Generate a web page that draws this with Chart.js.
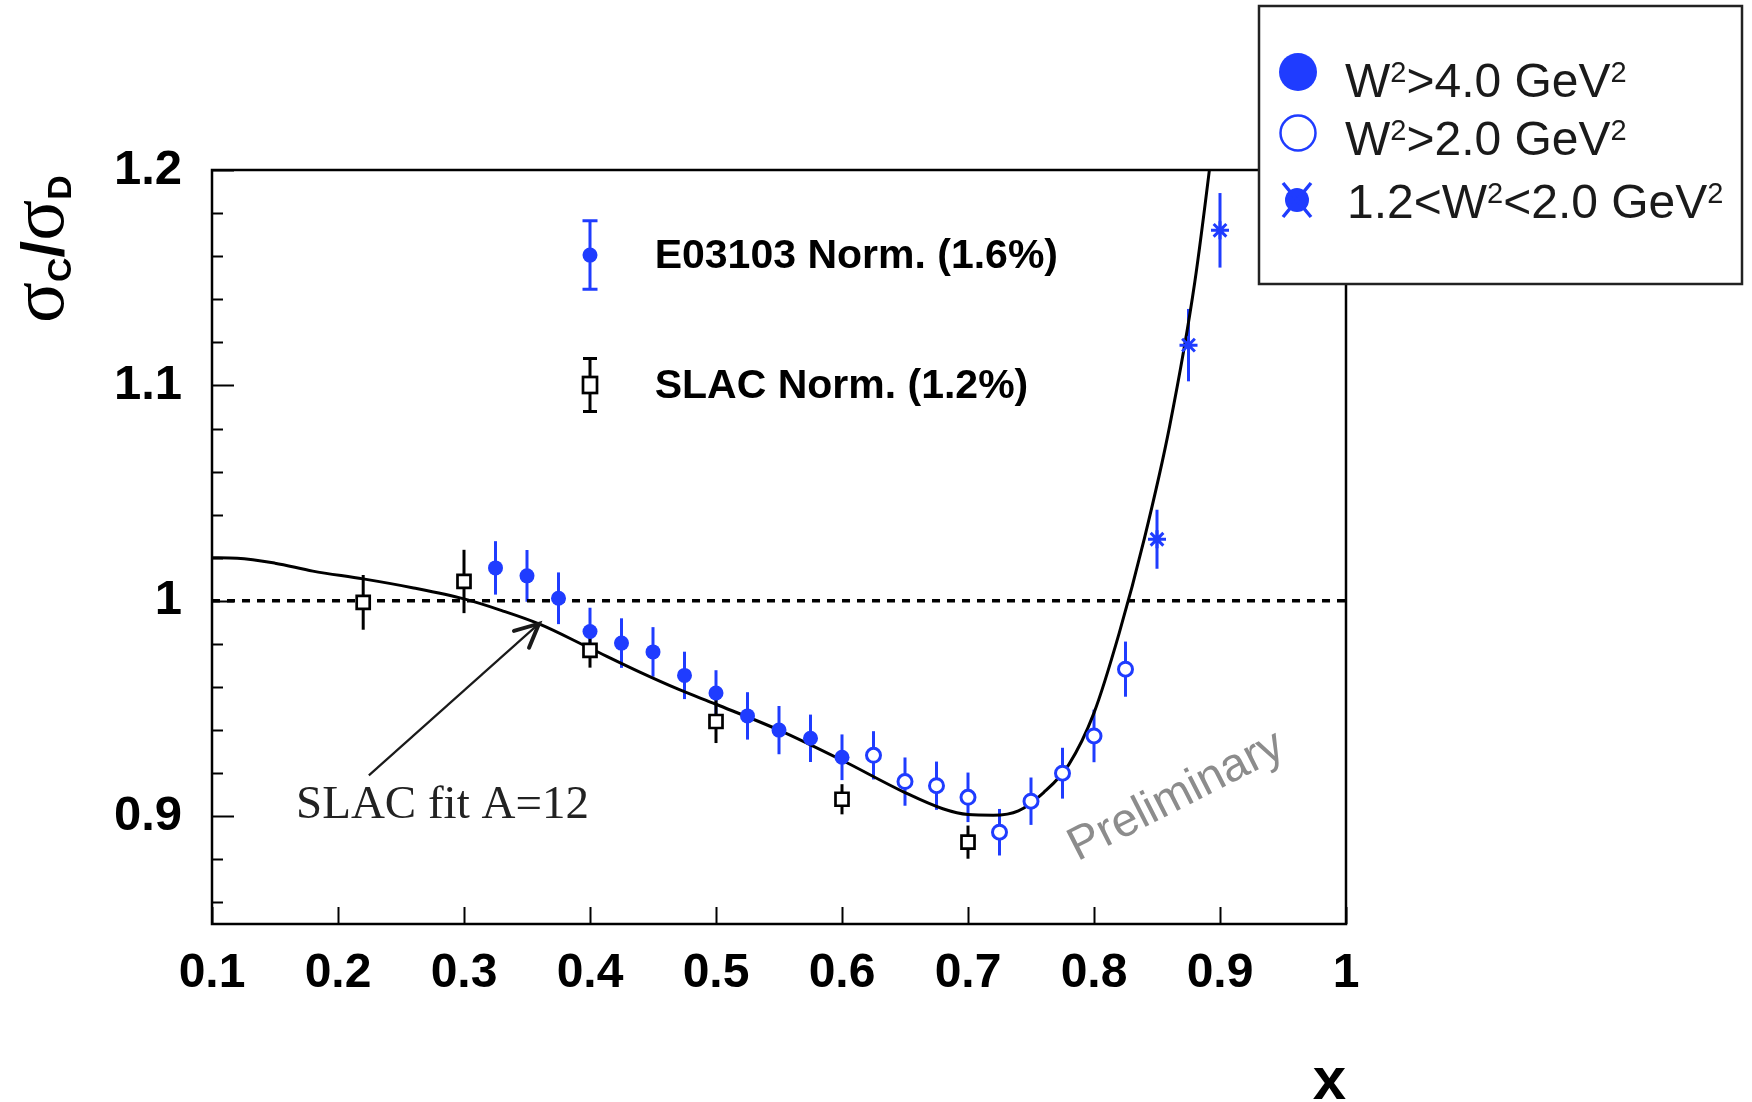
<!DOCTYPE html>
<html>
<head>
<meta charset="utf-8">
<script src="https://cdn.jsdelivr.net/npm/chart.js@4.4.1/dist/chart.umd.min.js"></script>
<style>
html,body{margin:0;padding:0;background:#fff;}
canvas{display:block;}
</style>
</head>
<body>
<canvas id="c" width="1752" height="1102"></canvas>
<script>
// ---------------- data ----------------
const xTicks = [0.1,0.2,0.3,0.4,0.5,0.6,0.7,0.8,0.9,1.0];
const xTickLabels = ['0.1','0.2','0.3','0.4','0.5','0.6','0.7','0.8','0.9','1'];
const yTicks = [0.9,1.0,1.1,1.2];
const yTickLabels = ['0.9','1','1.1','1.2'];
const yMinorTicks = [0.86,0.88,0.92,0.94,0.96,0.98,1.02,1.04,1.06,1.08,1.12,1.14,1.16,1.18];

// E03103, W^2 > 4.0 GeV^2 (filled)
const filledX = [0.325,0.35,0.375,0.4,0.425,0.45,0.475,0.5,0.525,0.55,0.575,0.6];
const filledY = [1.0153,1.0116,1.0012,0.9858,0.9804,0.9763,0.9654,0.9572,0.9466,0.9400,0.9362,0.9274];
const filledErr = [0.0124,0.012,0.012,0.011,0.0115,0.0115,0.011,0.0106,0.011,0.0112,0.011,0.0106];

// E03103, W^2 > 2.0 GeV^2 (open)
const openX = [0.625,0.65,0.675,0.7,0.725,0.75,0.775,0.8,0.825];
const openY = [0.9283,0.9161,0.9142,0.9088,0.8926,0.9070,0.9200,0.9373,0.9683];
const openErr = [0.0112,0.0112,0.0112,0.0115,0.0108,0.011,0.0118,0.0122,0.0128];

// E03103, 1.2 < W^2 < 2.0 GeV^2 (stars)
const starX = [0.85,0.875,0.9];
const starY = [1.0286,1.1187,1.1720];
const starErr = [0.0137,0.0168,0.0173];

// SLAC data (open squares)
const slacX = [0.22,0.3,0.4,0.5,0.6,0.7];
const slacY = [0.9993,1.009,0.977,0.944,0.9079,0.888];
const slacErr = [0.0127,0.0147,0.008,0.010,0.007,0.0077];

// SLAC fit A=12 curve
const fitX = [0.1,0.12,0.15,0.18,0.22,0.26,0.30,0.33,0.36,0.40,0.44,0.47,0.50,0.55,0.60,0.65,0.68,0.70,0.72,0.74,0.76,0.78,0.80,0.82,0.84,0.86,0.88,0.90];
const fitY = [1.020,1.0198,1.0175,1.0138,1.0102,1.006,1.0009,0.9955,0.9892,0.978,0.9668,0.959,0.952,0.940,0.926,0.911,0.9035,0.9008,0.9005,0.9025,0.911,0.924,0.948,0.985,1.029,1.081,1.148,1.24];

// unity reference line
const unityX = [0.1,1.0];
const unityY = [1.0,1.0];

// ---------------- styles ----------------
const BLUE = '#1f3cff';
const SANS = '"Liberation Sans", Arial, Helvetica, sans-serif';
const SERIF = '"Liberation Serif", "Times New Roman", serif';

const pts = (xs, ys) => xs.map((x,i)=>({x:x, y:ys[i]}));

const errorBars = [
  {xs: filledX, ys: filledY, err: filledErr, color: BLUE},
  {xs: openX, ys: openY, err: openErr, color: BLUE},
  {xs: starX, ys: starY, err: starErr, color: BLUE},
  {xs: slacX, ys: slacY, err: slacErr, color: '#000'}
];

const errorPlugin = {
  id: 'errs',
  beforeDatasetsDraw(chart) {
    const {ctx, scales:{x, y}} = chart;
    ctx.save();
    ctx.lineWidth = 3;
    errorBars.forEach(s => {
      ctx.strokeStyle = s.color;
      s.xs.forEach((xv,i) => {
        const px = x.getPixelForValue(xv);
        ctx.beginPath();
        ctx.moveTo(px, y.getPixelForValue(s.ys[i] - s.err[i]));
        ctx.lineTo(px, y.getPixelForValue(s.ys[i] + s.err[i]));
        ctx.stroke();
      });
    });
    ctx.restore();
  }
};

// draw text with "2" superscripts: parts = [[text, isSup], ...]
function supText(ctx, parts, x, y, size) {
  let cx = x;
  parts.forEach(([t, sup]) => {
    if (sup) {
      ctx.font = Math.round(size * 0.6) + 'px ' + SANS;
      ctx.fillText(t, cx, y - size * 0.31);
    } else {
      ctx.font = size + 'px ' + SANS;
      ctx.fillText(t, cx, y);
    }
    cx += ctx.measureText(t).width;
  });
}

const framePlugin = {
  id: 'frame',
  afterDraw(chart) {
    const {ctx, chartArea:a, scales:{x, y}} = chart;
    ctx.save();
    // inward ticks
    ctx.strokeStyle = '#000';
    ctx.lineWidth = 2;
    xTicks.forEach(v => {
      const px = Math.round(x.getPixelForValue(v)) + 0.5;
      ctx.beginPath(); ctx.moveTo(px, a.bottom); ctx.lineTo(px, a.bottom - 17); ctx.stroke();
    });
    yTicks.forEach(v => {
      const py = Math.round(y.getPixelForValue(v)) + 0.5;
      ctx.beginPath(); ctx.moveTo(a.left, py); ctx.lineTo(a.left + 22, py); ctx.stroke();
    });
    yMinorTicks.forEach(v => {
      const py = Math.round(y.getPixelForValue(v)) + 0.5;
      ctx.beginPath(); ctx.moveTo(a.left, py); ctx.lineTo(a.left + 11, py); ctx.stroke();
    });
    // frame
    ctx.lineWidth = 2.5;
    ctx.strokeRect(a.left, a.top, a.right - a.left, a.bottom - a.top);

    // in-plot legend: E03103
    const lx = x.getPixelForValue(0.4);
    const eY = 1.1605, eE = 0.0159;
    ctx.strokeStyle = BLUE; ctx.fillStyle = BLUE; ctx.lineWidth = 3;
    const e1 = y.getPixelForValue(eY + eE), e2 = y.getPixelForValue(eY - eE);
    ctx.beginPath();
    ctx.moveTo(lx, e1); ctx.lineTo(lx, e2);
    ctx.moveTo(lx - 7.5, e1); ctx.lineTo(lx + 7.5, e1);
    ctx.moveTo(lx - 7.5, e2); ctx.lineTo(lx + 7.5, e2);
    ctx.stroke();
    ctx.beginPath(); ctx.arc(lx, y.getPixelForValue(eY), 7.5, 0, Math.PI*2); ctx.fill();

    // in-plot legend: SLAC
    const sY = 1.1002, sE = 0.0123;
    const s1 = y.getPixelForValue(sY + sE), s2 = y.getPixelForValue(sY - sE);
    ctx.strokeStyle = '#000'; ctx.lineWidth = 3;
    ctx.beginPath();
    ctx.moveTo(lx, s1); ctx.lineTo(lx, s2);
    ctx.moveTo(lx - 7, s1); ctx.lineTo(lx + 7, s1);
    ctx.moveTo(lx - 7, s2); ctx.lineTo(lx + 7, s2);
    ctx.stroke();
    const sc = y.getPixelForValue(sY);
    ctx.fillStyle = '#fff';
    ctx.fillRect(lx - 7, sc - 8, 14, 16);
    ctx.lineWidth = 2.7;
    ctx.strokeRect(lx - 7, sc - 8, 14, 16);

    ctx.fillStyle = '#000';
    ctx.font = 'bold 41px ' + SANS;
    ctx.textAlign = 'left'; ctx.textBaseline = 'middle';
    const tx = x.getPixelForValue(0.4513);
    ctx.fillText('E03103 Norm. (1.6%)', tx, y.getPixelForValue(eY) + 2);
    ctx.fillText('SLAC Norm. (1.2%)', tx, sc + 2);

    // SLAC fit annotation with arrow
    const ax0 = x.getPixelForValue(0.2245), ay0 = y.getPixelForValue(0.919);
    const ax1 = x.getPixelForValue(0.3595), ay1 = y.getPixelForValue(0.9894);
    ctx.strokeStyle = '#1a1a1a'; ctx.lineWidth = 2.2;
    ctx.beginPath(); ctx.moveTo(ax0, ay0); ctx.lineTo(ax1, ay1); ctx.stroke();
    const ang = Math.atan2(ay1 - ay0, ax1 - ax0);
    ctx.lineWidth = 4; ctx.lineCap = 'round';
    ctx.beginPath();
    ctx.moveTo(ax1 - 26*Math.cos(ang - 0.45), ay1 - 26*Math.sin(ang - 0.45));
    ctx.lineTo(ax1, ay1);
    ctx.lineTo(ax1 - 26*Math.cos(ang + 0.45), ay1 - 26*Math.sin(ang + 0.45));
    ctx.stroke();
    ctx.lineCap = 'butt';
    ctx.fillStyle = '#222';
    ctx.font = '47px ' + SERIF;
    ctx.textBaseline = 'alphabetic';
    ctx.fillText('SLAC fit A=12', x.getPixelForValue(0.1667), y.getPixelForValue(0.899));

    // Preliminary
    ctx.save();
    ctx.translate(x.getPixelForValue(0.787), y.getPixelForValue(0.879));
    ctx.rotate(-27 * Math.PI / 180);
    ctx.fillStyle = '#8c8c8c';
    ctx.font = '47px ' + SANS;
    ctx.fillText('Preliminary', 0, 0);
    ctx.restore();

    // axis titles
    ctx.fillStyle = '#000';
    ctx.font = 'bold 60px ' + SANS;
    ctx.textAlign = 'right';
    ctx.fillText('x', a.right, 1099);

    ctx.save();
    ctx.translate(63, 323);
    ctx.rotate(-Math.PI/2);
    ctx.textAlign = 'left';
    let cx = 0;
    const seg = (t, font, dy) => { ctx.font = font; ctx.fillText(t, cx, dy); cx += ctx.measureText(t).width; };
    seg('σ', '76px ' + SERIF, 0);
    seg('C', 'bold 34px ' + SANS, 8);
    seg('/', 'bold 60px ' + SANS, 0);
    seg('σ', '76px ' + SERIF, 0);
    seg('D', 'bold 34px ' + SANS, 8);
    ctx.restore();

    // top-right legend box
    ctx.fillStyle = '#fff';
    ctx.fillRect(1259, 6, 483, 278);
    ctx.strokeStyle = '#222'; ctx.lineWidth = 2.5;
    ctx.strokeRect(1259, 6, 483, 278);
    // markers
    ctx.fillStyle = BLUE;
    ctx.beginPath(); ctx.arc(1298, 72, 19, 0, Math.PI*2); ctx.fill();
    ctx.strokeStyle = BLUE; ctx.lineWidth = 2.5;
    ctx.beginPath(); ctx.arc(1298, 133, 17.5, 0, Math.PI*2); ctx.stroke();
    ctx.beginPath(); ctx.arc(1297, 200, 12, 0, Math.PI*2); ctx.fill();
    ctx.lineWidth = 3.5;
    ctx.beginPath();
    ctx.moveTo(1283, 183); ctx.lineTo(1311, 217);
    ctx.moveTo(1311, 183); ctx.lineTo(1283, 217);
    ctx.stroke();
    ctx.fillStyle = '#1a1a1a';
    ctx.textAlign = 'left';
    supText(ctx, [['W',0],['2',1],['>4.0 GeV',0],['2',1]], 1345, 97, 48);
    supText(ctx, [['W',0],['2',1],['>2.0 GeV',0],['2',1]], 1345, 155, 48);
    supText(ctx, [['1.2<W',0],['2',1],['<2.0 GeV',0],['2',1]], 1347, 218, 48);
    ctx.restore();
  }
};

new Chart(document.getElementById('c'), {
  type: 'scatter',
  data: {
    datasets: [
      { label: 'E03103 W²>4.0', data: pts(filledX, filledY), pointStyle: 'circle', pointRadius: 7.5,
        pointBackgroundColor: BLUE, pointBorderColor: BLUE, pointBorderWidth: 0, order: 1 },
      { label: 'E03103 W²>2.0', data: pts(openX, openY), pointStyle: 'circle', pointRadius: 7,
        pointBackgroundColor: '#fff', pointBorderColor: BLUE, pointBorderWidth: 3, order: 1 },
      { label: 'E03103 1.2<W²<2.0', data: pts(starX, starY), pointStyle: 'star', pointRadius: 9,
        pointBorderColor: BLUE, pointBackgroundColor: BLUE, pointBorderWidth: 3, order: 1 },
      { label: 'SLAC', data: pts(slacX, slacY), pointStyle: 'rect', pointRadius: 9.2,
        pointBackgroundColor: '#fff', pointBorderColor: '#000', pointBorderWidth: 2.7, order: 2 },
      { label: 'SLAC fit A=12', data: pts(fitX, fitY), showLine: true, pointRadius: 0,
        borderColor: '#000', borderWidth: 3, cubicInterpolationMode: 'monotone', order: 10 },
      { label: 'unity', data: pts(unityX, unityY), showLine: true, pointRadius: 0,
        borderColor: '#000', borderWidth: 3.5, borderDash: [8, 7], order: 11 }
    ]
  },
  options: {
    responsive: false,
    animation: false,
    devicePixelRatio: 1,
    layout: { padding: { top: 170, right: 406, left: 0, bottom: 0 } },
    plugins: { legend: { display: false }, tooltip: { enabled: false } },
    scales: {
      x: {
        type: 'linear', min: 0.1, max: 1.0,
        afterBuildTicks: s => { s.ticks = xTicks.map(v => ({value: v})); },
        afterFit: s => { s.height = 178; },
        grid: { display: false, drawTicks: false },
        border: { display: false },
        ticks: {
          autoSkip: false, maxRotation: 0, padding: 21, color: '#000',
          font: { family: SANS, weight: 'bold', size: 48 },
          callback: (v, i) => xTickLabels[i]
        }
      },
      y: {
        type: 'linear', min: 0.85, max: 1.2,
        afterBuildTicks: s => { s.ticks = yTicks.map(v => ({value: v})); },
        afterFit: s => { s.width = 212; },
        grid: { display: false, drawTicks: false },
        border: { display: false },
        ticks: {
          padding: 30, color: '#000',
          font: { family: SANS, weight: 'bold', size: 49 },
          callback: (v, i) => yTickLabels[i]
        }
      }
    }
  },
  plugins: [errorPlugin, framePlugin]
});
</script>
</body>
</html>
